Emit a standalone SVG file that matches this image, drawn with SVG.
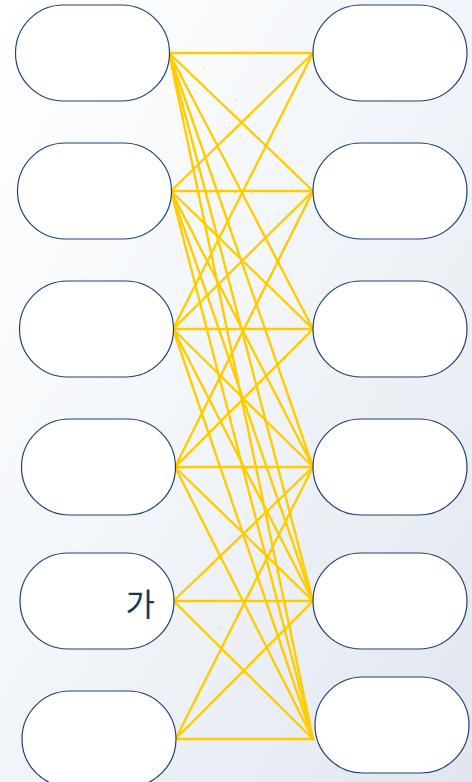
<svg xmlns="http://www.w3.org/2000/svg" width="472" height="782" viewBox="0 0 472 782">
<defs>
<linearGradient id="bg" x1="0" y1="0" x2="1" y2="1">
<stop offset="0" stop-color="#ffffff"/>
<stop offset="0.5" stop-color="#f1f5f9"/>
<stop offset="1" stop-color="#e1e6ef"/>
</linearGradient>
<style>
.n{fill:#ffffff;stroke:#1f4272;stroke-width:1.2}
.c line{stroke:#ffcc00;stroke-width:2.4;stroke-linecap:round}
.t{font-family:"Noto Sans CJK KR","Noto Sans",sans-serif;font-size:32px;fill:#0f3a68}
</style>
</defs>
<rect width="472" height="782" fill="url(#bg)"/>
<g class="c" id="connectors">
<line x1="169" y1="53" x2="313" y2="53"/><line x1="169" y1="53" x2="313" y2="191"/><line x1="169" y1="53" x2="313" y2="329"/><line x1="169" y1="53" x2="313" y2="467"/><line x1="169" y1="53" x2="313" y2="601"/><line x1="169" y1="53" x2="313" y2="739"/>
<line x1="171" y1="191" x2="313" y2="53"/><line x1="171" y1="191" x2="313" y2="191"/><line x1="171" y1="191" x2="313" y2="329"/><line x1="171" y1="191" x2="313" y2="467"/><line x1="171" y1="191" x2="313" y2="601"/><line x1="171" y1="191" x2="313" y2="739"/>
<line x1="173" y1="329" x2="313" y2="53"/><line x1="173" y1="329" x2="313" y2="191"/><line x1="173" y1="329" x2="313" y2="329"/><line x1="173" y1="329" x2="313" y2="467"/><line x1="173" y1="329" x2="313" y2="601"/><line x1="173" y1="329" x2="313" y2="739"/>
<line x1="175" y1="467" x2="313" y2="191"/><line x1="175" y1="467" x2="313" y2="329"/><line x1="175" y1="467" x2="313" y2="467"/><line x1="175" y1="467" x2="313" y2="601"/><line x1="175" y1="467" x2="313" y2="739"/>
<line x1="173.5" y1="601" x2="313" y2="467"/><line x1="173.5" y1="601" x2="313" y2="601"/><line x1="173.5" y1="601" x2="313" y2="739"/>
<line x1="175.5" y1="739" x2="313" y2="467"/><line x1="175.5" y1="739" x2="313" y2="601"/><line x1="175.5" y1="739" x2="313" y2="739"/>
</g>
<g id="L1"><rect class="n" x="15.5" y="5" width="154" height="96" rx="48"/></g>
<g id="L2"><rect class="n" x="17.5" y="143" width="154" height="96" rx="48"/></g>
<g id="L3"><rect class="n" x="19.5" y="281" width="154" height="96" rx="48"/></g>
<g id="L4"><rect class="n" x="21.5" y="419" width="154" height="96" rx="48"/></g>
<g id="L5"><rect class="n" x="20" y="553" width="154" height="96" rx="48"/><text class="t" x="155" y="616" text-anchor="end">가</text></g>
<g id="L6"><rect class="n" x="22" y="691" width="154" height="96" rx="48"/></g>
<g id="R1"><rect class="n" x="313" y="5" width="154" height="96" rx="48"/></g>
<g id="R2"><rect class="n" x="313" y="143" width="154" height="96" rx="48"/></g>
<g id="R3"><rect class="n" x="313" y="281" width="154" height="96" rx="48"/></g>
<g id="R4"><rect class="n" x="313" y="419" width="154" height="96" rx="48"/></g>
<g id="R5"><rect class="n" x="313" y="553" width="154" height="96" rx="48"/></g>
<g id="R6"><rect class="n" x="315" y="677" width="154" height="96" rx="48"/></g>
</svg>
